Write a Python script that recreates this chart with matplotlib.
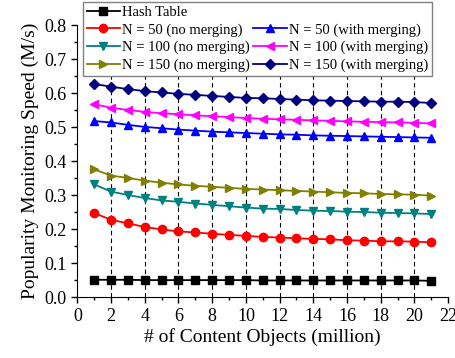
import matplotlib.pyplot as plt
from matplotlib.ticker import MultipleLocator, FormatStrFormatter

plt.rcParams['font.family'] = 'Liberation Serif'
plt.rcParams['mathtext.fontset'] = 'stix'

x = list(range(1, 22))

hash_table = [0.052, 0.052, 0.052, 0.051, 0.051, 0.051, 0.051, 0.051, 0.051, 0.051, 0.050,
              0.050, 0.050, 0.050, 0.050, 0.050, 0.050, 0.050, 0.050, 0.050, 0.049]
n50_no = [0.248, 0.228, 0.218, 0.207, 0.200, 0.194, 0.191, 0.187, 0.184, 0.181, 0.178,
          0.176, 0.174, 0.172, 0.171, 0.168, 0.167, 0.165, 0.165, 0.164, 0.162]
n50_with = [0.518, 0.514, 0.507, 0.501, 0.497, 0.493, 0.490, 0.487, 0.485, 0.483, 0.481,
            0.479, 0.478, 0.476, 0.475, 0.474, 0.473, 0.472, 0.471, 0.470, 0.469]
n100_no = [0.332, 0.311, 0.301, 0.292, 0.285, 0.281, 0.276, 0.272, 0.268, 0.264, 0.261,
           0.260, 0.257, 0.255, 0.254, 0.252, 0.251, 0.249, 0.248, 0.247, 0.245]
n100_with = [0.568, 0.557, 0.551, 0.545, 0.541, 0.538, 0.535, 0.532, 0.530, 0.527, 0.525,
             0.523, 0.522, 0.520, 0.519, 0.517, 0.516, 0.515, 0.514, 0.513, 0.511]
n150_no = [0.376, 0.358, 0.351, 0.343, 0.337, 0.332, 0.328, 0.325, 0.322, 0.319, 0.317,
           0.315, 0.313, 0.311, 0.309, 0.307, 0.306, 0.304, 0.303, 0.302, 0.299]
n150_with = [0.627, 0.619, 0.612, 0.606, 0.602, 0.598, 0.595, 0.592, 0.589, 0.586, 0.585,
             0.583, 0.581, 0.579, 0.578, 0.577, 0.576, 0.575, 0.575, 0.574, 0.571]

fig = plt.figure(figsize=(4.55, 3.58), dpi=100)
ax = fig.add_axes([0.170, 0.169, 0.815, 0.761])

for gx in range(2, 21, 2):
    ax.axvline(gx, color='black', linestyle=(0, (4, 3)), linewidth=0.8, zorder=0)

kw = dict(linewidth=1.3, markersize=6)
h_hash, = ax.plot(x, hash_table, color='black', marker='s', label='Hash Table', **kw)
h50n, = ax.plot(x, n50_no, color='red', marker='o', label='N = 50 (no merging)', **kw)
h50w, = ax.plot(x, n50_with, color='blue', marker='^', label='N = 50 (with merging)', **kw)
h100n, = ax.plot(x, n100_no, color='#008080', marker='v', label='N = 100 (no merging)', **kw)
h100w, = ax.plot(x, n100_with, color='magenta', marker='<', label='N = 100 (with merging)', **kw)
h150n, = ax.plot(x, n150_no, color='#808000', marker='>', label='N = 150 (no merging)', **kw)
h150w, = ax.plot(x, n150_with, color='#000080', marker='D', label='N = 150 (with merging)',
                 linewidth=1.3, markersize=5)

blank, = ax.plot([], [], linestyle='none', label=' ')

ax.set_xlim(0, 22)
ax.set_ylim(0, 0.8)
ax.xaxis.set_major_locator(MultipleLocator(2))
ax.xaxis.set_minor_locator(MultipleLocator(1))
ax.yaxis.set_major_locator(MultipleLocator(0.1))
ax.yaxis.set_minor_locator(MultipleLocator(0.05))
ax.yaxis.set_major_formatter(FormatStrFormatter('%.1f'))
ax.tick_params(which='major', direction='out', length=4, width=1, labelsize=13)
ax.tick_params(which='minor', direction='out', length=2.5, width=1)
ax.spines['top'].set_visible(False)
ax.spines['right'].set_visible(False)

ax.set_xlabel('# of Content Objects (million)', fontsize=14, labelpad=2)
ax.set_ylabel('Popularity Monitoring Speed (M/s)', fontsize=14, labelpad=4)

leg = ax.legend([h_hash, h50n, h100n, h150n, blank, h50w, h100w, h150w],
                ['Hash Table', 'N = 50 (no merging)', 'N = 100 (no merging)', 'N = 150 (no merging)',
                 '', 'N = 50 (with merging)', 'N = 100 (with merging)', 'N = 150 (with merging)'],
                ncol=2, loc='upper left', bbox_to_anchor=(0.015, 1.085), fontsize=10.5,
                frameon=True, fancybox=False, framealpha=1, edgecolor='gray',
                borderpad=0.25, labelspacing=0.3, handlelength=2.3, handletextpad=0.15,
                columnspacing=0.2, borderaxespad=0)
leg.get_frame().set_linewidth(1.0)

fig.savefig('out.png', dpi=100)
